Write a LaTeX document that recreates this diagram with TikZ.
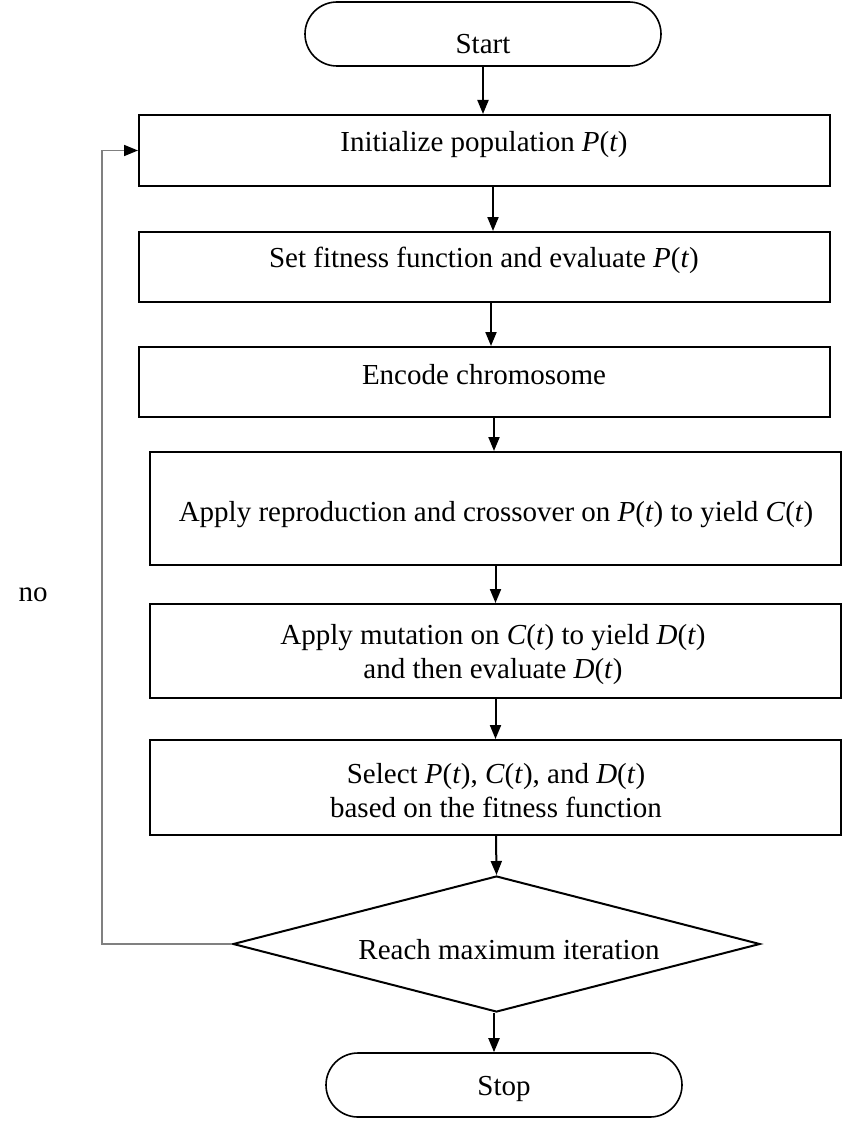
\documentclass[tikz,border=0pt]{standalone}
\usepackage{fontspec}
\setmainfont{Liberation Serif}
\usetikzlibrary{shapes.geometric,shapes.misc,arrows.meta}
\newcommand{\iv}[1]{\textit{#1}}
\begin{document}
\begin{tikzpicture}[x=1pt,y=-1pt,
  box/.style={draw,line width=2pt,rectangle,inner sep=0pt},
  term/.style={draw,line width=1.6pt,rounded rectangle,inner sep=0pt,minimum width=356pt,minimum height=64pt},
  txt/.style={inner sep=0pt,align=center,font=\fontsize{29}{34}\selectfont},
  arr/.style={line width=2pt,-{Triangle[length=14pt,width=11pt]}},
  loopline/.style={line width=1.6pt,draw=black!50,-{Triangle[length=14pt,width=11pt,fill=black,color=black]}}]
\useasboundingbox (0,0) rectangle (843,1121);
\node[term] (start) at (483,34) {};
\node[txt] (tstart) at (483,44) {Start};
\node[box,minimum width=691pt,minimum height=71pt] (b1) at (484.5,150.5) {};
\node[txt] (t1) at (484,145) {Initialize population \iv{P}(\iv{t})};
\node[box,minimum width=691pt,minimum height=70pt] (b2) at (484.5,267) {};
\node[txt] (t2) at (484,260) {Set fitness function and evaluate \iv{P}(\iv{t})};
\node[box,minimum width=691pt,minimum height=70pt] (b3) at (484.5,382) {};
\node[txt] (t3) at (484,375) {Encode chromosome};
\node[box,minimum width=691pt,minimum height=113pt] (b4) at (495.5,508.5) {};
\node[txt] (t4) at (496,515) {Apply reproduction and crossover on \iv{P}(\iv{t}) to yield \iv{C}(\iv{t})};
\node[box,minimum width=691pt,minimum height=94pt] (b5) at (495.5,651) {};
\node[txt] (t5) at (493,655) {Apply mutation on \iv{C}(\iv{t}) to yield \iv{D}(\iv{t})\\and then evaluate \iv{D}(\iv{t})};
\node[box,minimum width=691pt,minimum height=95pt] (b6) at (495.5,787.5) {};
\node[txt] (t6) at (496,791) {Select \iv{P}(\iv{t}), \iv{C}(\iv{t}), and \iv{D}(\iv{t})\\based on the fitness function};
\node[draw,line width=2pt,diamond,aspect=3.875,inner sep=0pt,minimum width=527pt,minimum height=136pt] (dia) at (496.5,944) {};
\node[txt] (td) at (509,950) {Reach maximum iteration};
\node[term] (stop) at (504,1085) {};
\node[txt] (tstop) at (504,1089) {Stop};
\node[txt] (no) at (33,595) {no};
\coordinate (lc) at (102,944);
\draw[arr] (start.south) -- (b1.north -| start.south);
\draw[arr] ([xshift=8.5pt]b1.south) -- ([xshift=8.5pt]b2.north);
\draw[arr] ([xshift=6.5pt]b2.south) -- ([xshift=6.5pt]b2.south |- b3.north);
\draw[arr] ([xshift=9.5pt]b3.south) -- ([xshift=9.5pt]b3.south |- b4.north);
\draw[arr] (b4.south) -- (b5.north);
\draw[arr] (b5.south) -- (b6.north);
\draw[arr] ([xshift=0.5pt]b6.south) -- (dia.north);
\draw[arr] ([xshift=-2.5pt]dia.south) -- ([xshift=-2.5pt]dia.south |- stop.north);
\draw[loopline] (dia.west) -- (lc) |- (b1.west);
\end{tikzpicture}
\end{document}
